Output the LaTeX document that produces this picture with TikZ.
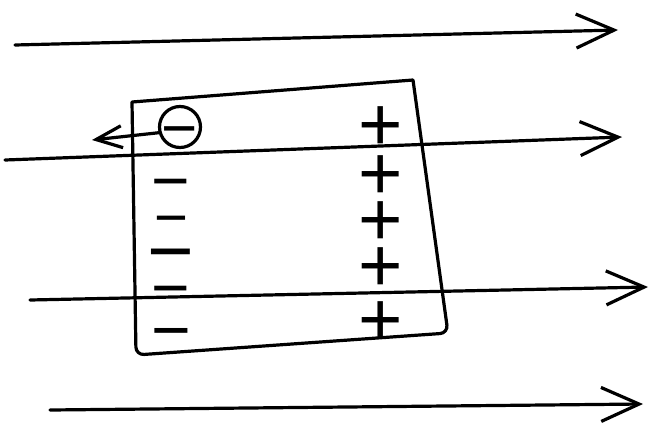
\documentclass[tikz,border=0pt]{standalone}
\usepackage{fontspec}
\newfontfamily\signfont{Liberation Sans}
\usetikzlibrary{arrows.meta}

\begin{document}
\begin{tikzpicture}[x=1pt,y=-1pt,line width=3.2pt,line cap=round,line join=round]
   \useasboundingbox (0,0) rectangle (650,429);
   \tikzstyle{field}=[-{Straight Barb[length=38pt,width=34pt,line width=3.2pt]}]
   \tikzstyle{charge}=[inner sep=0pt,anchor=base]
   % field lines
   \foreach \i/\a/\b in {1/{15,45}/{618,30},2/{5,160}/{622,137},3/{30,300}/{648,287},4/{50,410}/{643,404}} {
       \coordinate (s\i) at (\a);
       \coordinate (t\i) at (\b);
       \draw[field] (s\i) -- (t\i);
   }
   % slab
   \coordinate (tl) at (132,102);
   \coordinate (tr) at (413,80);
   \coordinate (br) at (448,333);
   \coordinate (bl) at (136,355);
   \draw (tr) -- (tl) [rounded corners=8pt] -- (bl) -- (br) [sharp corners] -- (tr);
   % charges (baseline put below the sign's middle)
   \foreach \i/\y/\s in {1/180/66,2/217/58,3/250/80,4/287/66,5/329/68} {
       \node[charge,font=\signfont\fontsize{\s}{\s}\selectfont] (m\i) at (171,{\y+0.36*\s}) {−};
   }
   \foreach \i/\y in {1/123,2/172,3/218,4/264,5/318} {
       \node[charge,font=\signfont\fontsize{76}{76}\selectfont] (p\i) at (381,{\y+0.36*76}) {+};
   }
   \node[draw,circle,minimum size=41pt,inner sep=0pt] (neg) at (180,127) {};
   \node[charge,font=\signfont\fontsize{62}{62}\selectfont] (negsign) at (180,{127+0.36*62}) {−};
   \coordinate (pull) at (92,140);
   \draw[-{Straight Barb[length=26pt,width=22pt,line width=3.2pt]}] (neg.195) -- (pull);
\end{tikzpicture}
\end{document}
